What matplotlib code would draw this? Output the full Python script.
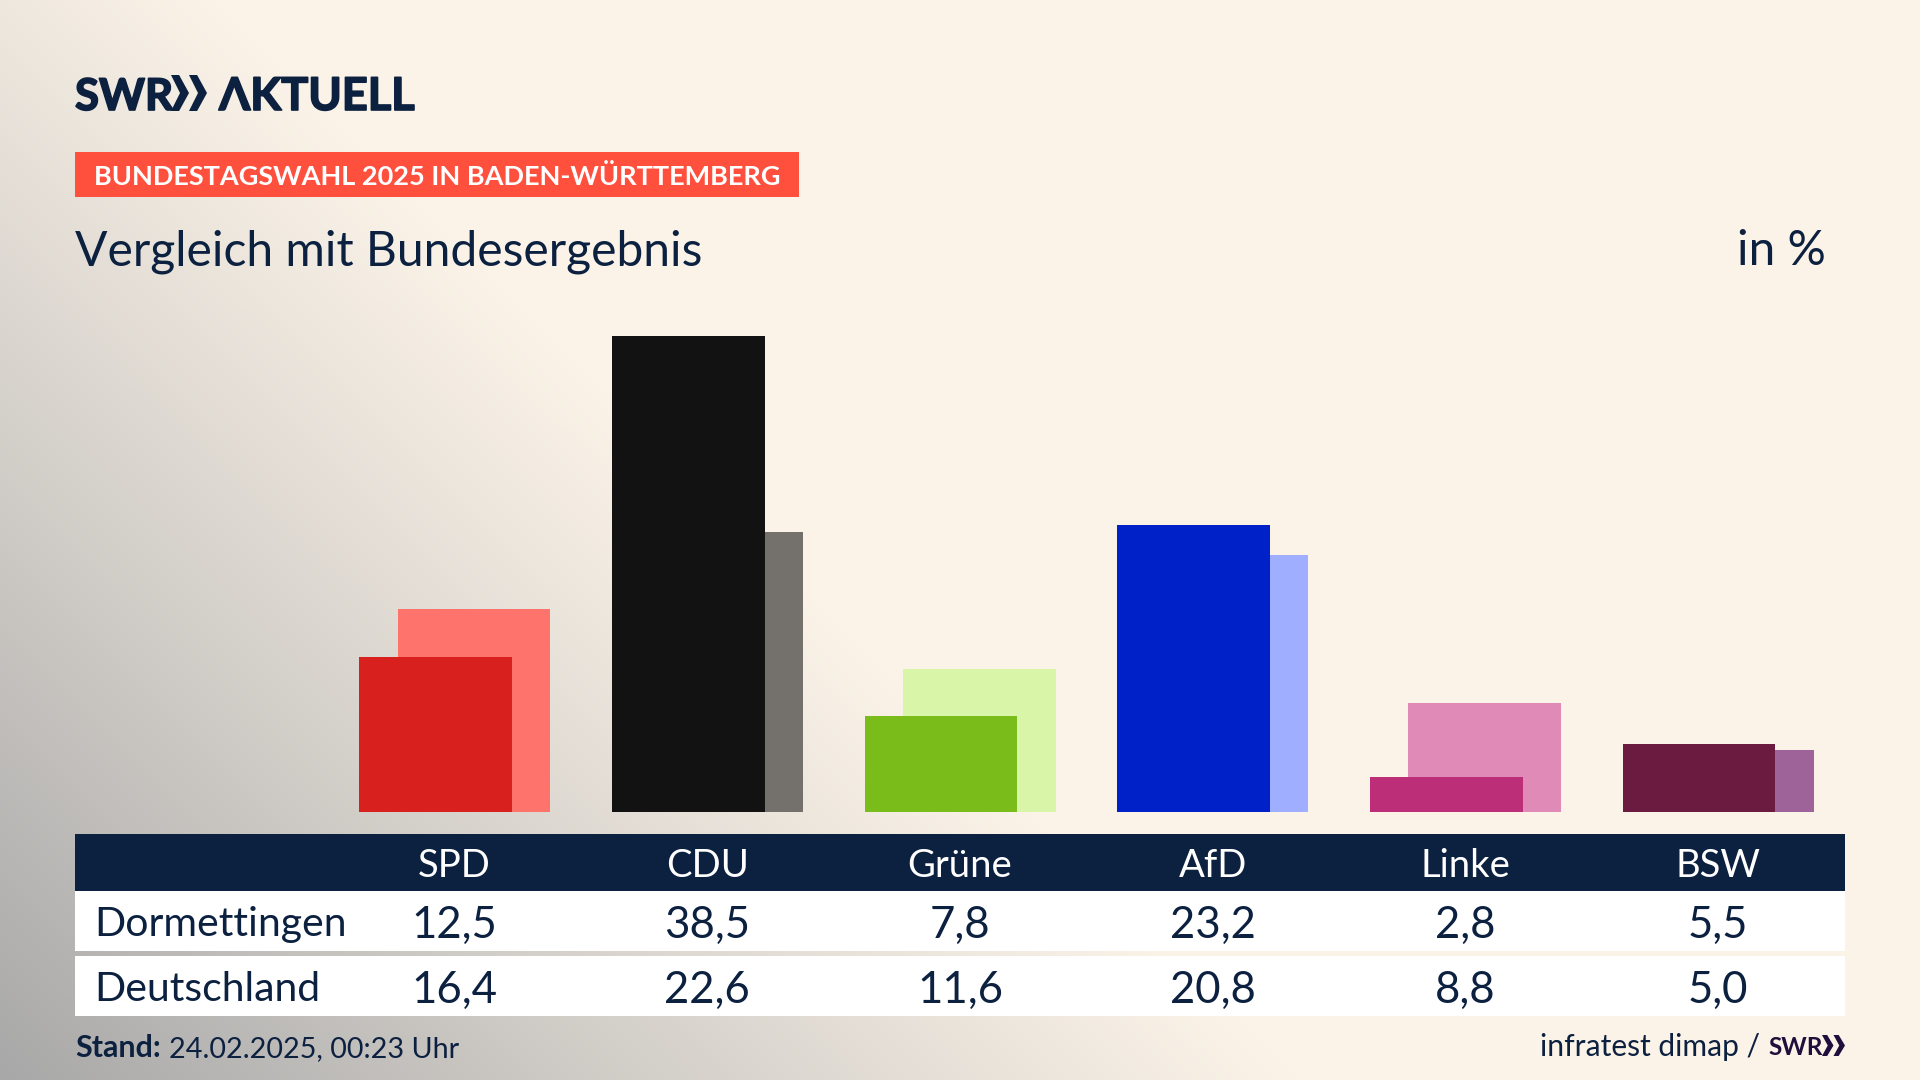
import numpy as np
import matplotlib
matplotlib.use('Agg')
import matplotlib.pyplot as plt
import matplotlib.patheffects as pe
from matplotlib.patches import Rectangle, Polygon

parties = ['SPD', 'CDU', 'Grüne', 'AfD', 'Linke', 'BSW']
dormettingen = [12.5, 38.5, 7.8, 23.2, 2.8, 5.5]
deutschland = [16.4, 22.6, 11.6, 20.8, 8.8, 5.0]
front_colors = ['#D8201E', '#121212', '#7ABD1A', '#0020C8', '#BC2F78', '#6B1A40']
back_colors = ['#FF736D', '#74716D', '#D8F5A8', '#9FAEFF', '#E08AB8', '#9E6499']

navy = '#0C2040'
plt.rcParams['font.family'] = ['Lato', 'DejaVu Sans']

fig = plt.figure(figsize=(19.2, 10.8), dpi=100)

# background, cream with a grey diagonal fade into the lower left corner
bg = fig.add_axes([0, 0, 1, 1], zorder=0)
bg.axis('off')
yy, xx = np.mgrid[0:1080:270j, 0:1920:480j]
t = np.clip((yy - xx + 215) / 1295.0, 0, 1) ** 1.05
cream = np.array([251, 243, 232]) / 255
grey = np.array([168, 168, 168]) / 255
img = cream[None, None, :] + (grey - cream)[None, None, :] * t[:, :, None]
bg.imshow(img, extent=[0, 1920, 1080, 0], aspect='auto')
bg.set_xlim(0, 1920)
bg.set_ylim(1080, 0)

# overlay in pixel coordinates for header and table
ov = fig.add_axes([0, 0, 1, 1], zorder=2)
ov.set_xlim(0, 1920)
ov.set_ylim(1080, 0)
ov.axis('off')

# bars
col_step = 252.7
col0 = 454.5
ax = fig.add_axes([(col0 - col_step / 2) / 1920, (1080 - 812) / 1080, col_step * 6 / 1920, 494.8 / 1080], zorder=1)
ax.patch.set_alpha(0)
ax.set_xlim(-0.5, 5.5)
ax.set_ylim(0, 40)
ax.axis('off')
x = np.arange(len(parties))
ax.bar(x + 0.077, deutschland, width=0.605, color=back_colors)
ax.bar(x - 0.075, dormettingen, width=0.605, color=front_colors)


def chevrons(x0, x1, y0, y1, color):
    # two arrow heads side by side, as in the SWR logo
    w = (x1 - x0) / 2
    ym = (y0 + y1) / 2
    for xs in (x0, x0 + w):
        ov.add_patch(Polygon([(xs, y0), (xs + w * 0.45, y0), (xs + w, ym), (xs + w * 0.45, y1), (xs, y1), (xs + w * 0.5, ym)],
                             color=color, lw=0))


# logo, slightly thickened since the real logo is heavier than Lato Bold
thick = [pe.withStroke(linewidth=1.2, foreground=navy)]
ov.text(75, 110, 'SWR', fontsize=31.5, fontweight='bold', color=navy, va='baseline', ha='left', path_effects=thick)
chevrons(171, 207, 75, 111, navy)
ov.text(219, 110, 'ΛKTUELL', fontsize=32.5, fontweight='bold', color=navy, va='baseline', ha='left', path_effects=thick)

# banner
ov.add_patch(Rectangle((75, 152), 724, 45, color='#FF4F3D', lw=0))
ov.text(94, 185, 'BUNDESTAGSWAHL 2025 IN BADEN-WÜRTTEMBERG', fontsize=19.55, fontweight='bold', color='white', va='baseline', ha='left')

ov.text(75, 265, 'Vergleich mit Bundesergebnis', fontsize=34.6, color=navy, va='baseline', ha='left')
ov.text(1826, 265, 'in %', fontsize=34.5, color=navy, va='baseline', ha='right')

# table
ov.add_patch(Rectangle((75, 834), 1770, 57, color=navy, lw=0))
ov.add_patch(Rectangle((75, 891), 1770, 60, color='white', lw=0))
ov.add_patch(Rectangle((75, 956), 1770, 60, color='white', lw=0))
ov.text(94, 936, 'Dormettingen', fontsize=29.5, color=navy, va='baseline', ha='left')
ov.text(94, 1001, 'Deutschland', fontsize=29.5, color=navy, va='baseline', ha='left')
for i, p in enumerate(parties):
    cx = col0 + col_step * i
    ov.text(cx, 877, p, fontsize=27.5, color='white', va='baseline', ha='center')
    ov.text(cx, 938, f'{dormettingen[i]:.1f}'.replace('.', ','), fontsize=31.5, color=navy, va='baseline', ha='center')
    ov.text(cx, 1003, f'{deutschland[i]:.1f}'.replace('.', ','), fontsize=31.5, color=navy, va='baseline', ha='center')

# footer
ov.text(75, 1057, 'Stand:', fontsize=22, fontweight='bold', color=navy, va='baseline', ha='left')
ov.text(169, 1057, '24.02.2025, 00:23 Uhr', fontsize=20.7, color=navy, va='baseline', ha='left')
ov.text(1760, 1056, 'infratest dimap /', fontsize=21.6, color=navy, va='baseline', ha='right')
ov.text(1768, 1055, 'SWR', fontsize=17.5, fontweight='bold', color='#1E0F3C', va='baseline', ha='left')
chevrons(1822, 1845, 1035, 1056, '#1E0F3C')

fig.savefig('out.png', dpi=100)
